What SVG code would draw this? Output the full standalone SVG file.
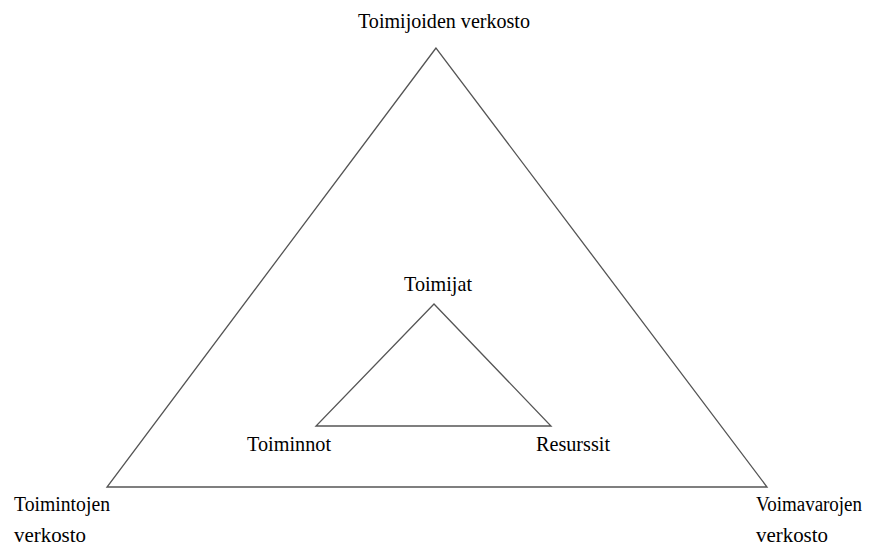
<svg xmlns="http://www.w3.org/2000/svg" width="872" height="550" viewBox="0 0 872 550">
<style>
text{font-family:"Liberation Serif","Times New Roman",serif;font-size:21px;fill:#000}
#n-right text{font-size:20px}
.tri{fill:none;stroke:#555;stroke-width:1.3}
</style>
<rect width="872" height="550" fill="#fff"/>
<g id="connectors">
<polygon id="outer" class="tri" points="436,48 107,487 767,487"/>
<polygon id="inner" class="tri" points="434,304 316,426 551,426"/>
</g>
<g id="n-top"><text x="358" y="28" textLength="172" lengthAdjust="spacingAndGlyphs">Toimijoiden verkosto</text></g>
<g id="n-left"><text x="14" y="511" textLength="96" lengthAdjust="spacingAndGlyphs">Toimintojen</text><text x="14" y="542" textLength="72" lengthAdjust="spacingAndGlyphs">verkosto</text></g>
<g id="n-right"><text x="756" y="511" textLength="106" lengthAdjust="spacingAndGlyphs">Voimavarojen</text><text x="756" y="542" textLength="72" lengthAdjust="spacingAndGlyphs">verkosto</text></g>
<g id="n-toimijat"><text x="404" y="291" textLength="68" lengthAdjust="spacingAndGlyphs">Toimijat</text></g>
<g id="n-toiminnot"><text x="247" y="451" textLength="84" lengthAdjust="spacingAndGlyphs">Toiminnot</text></g>
<g id="n-resurssit"><text x="536" y="451" textLength="74" lengthAdjust="spacingAndGlyphs">Resurssit</text></g>
</svg>
